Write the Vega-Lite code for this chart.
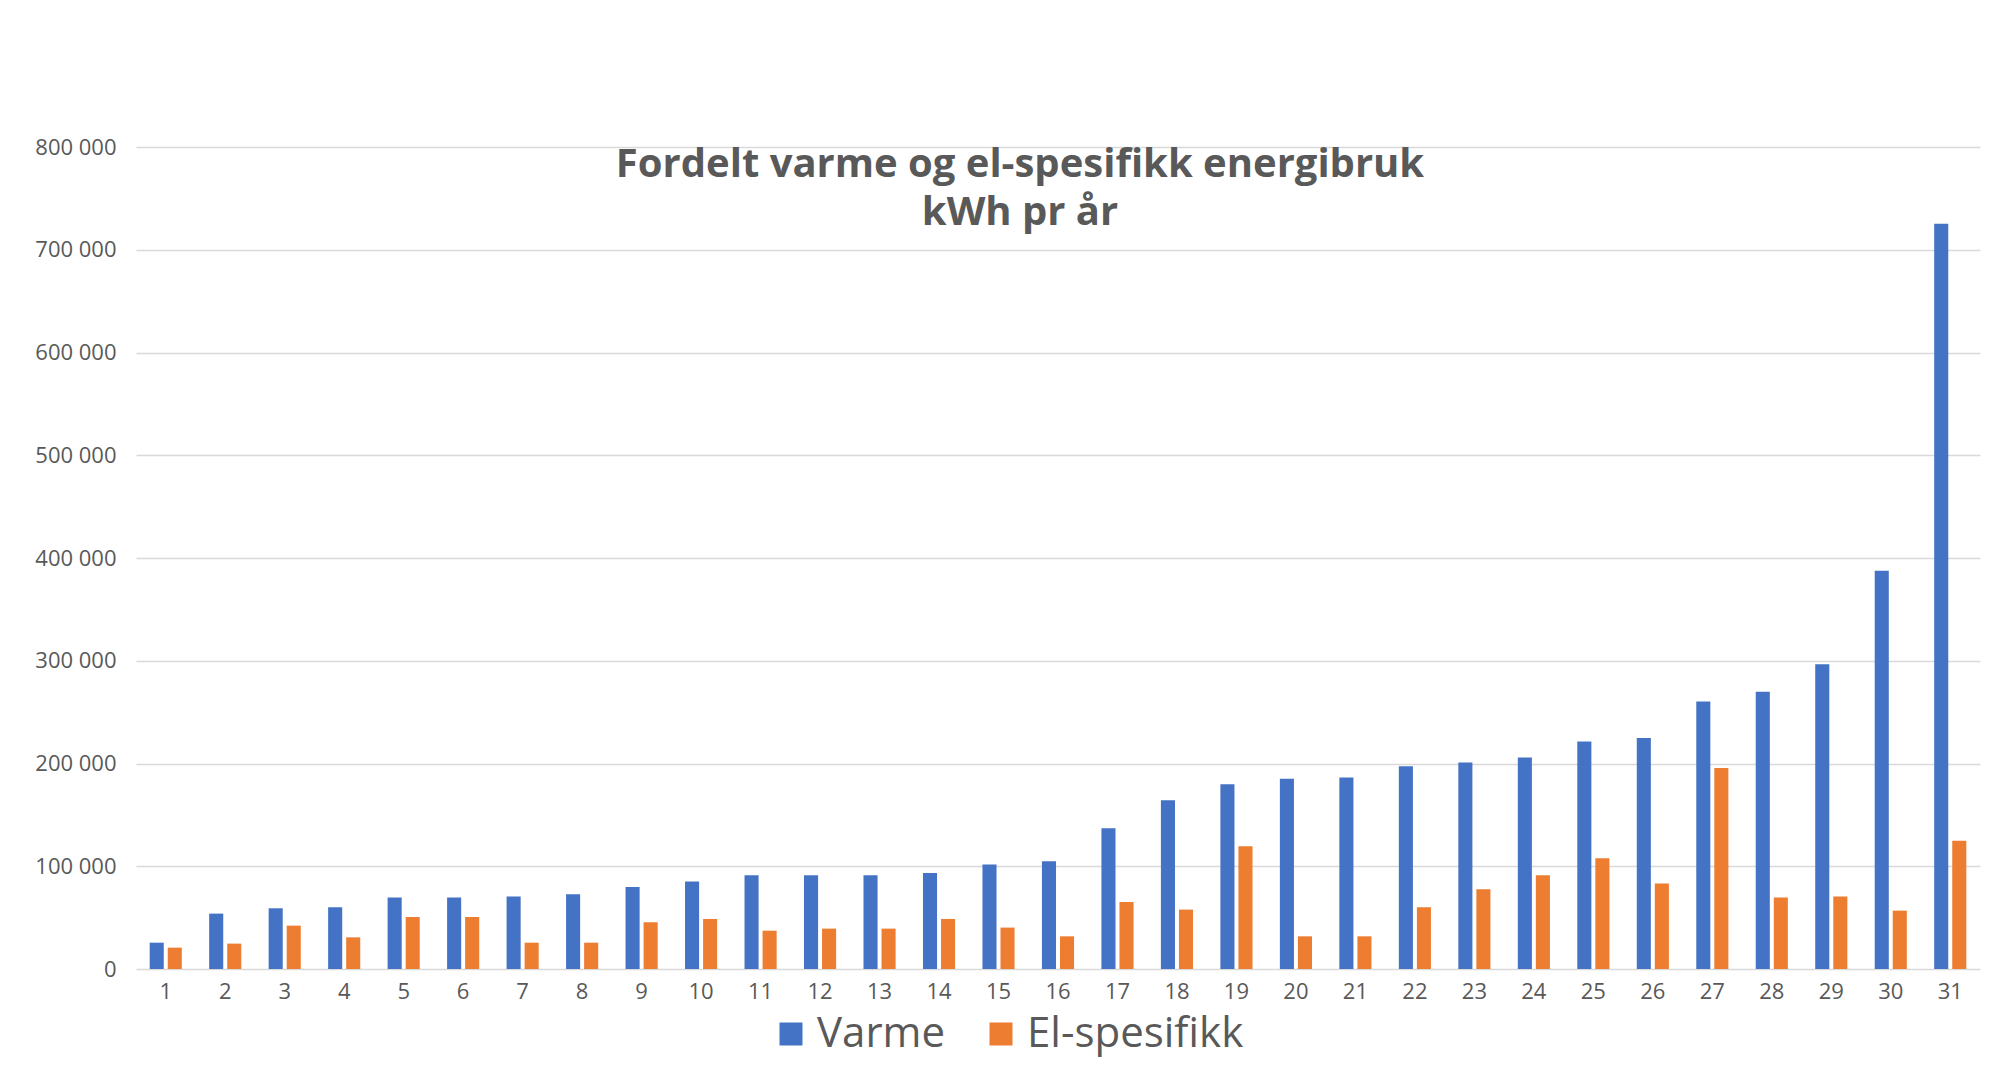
{
  "$schema": "https://vega.github.io/schema/vega-lite/v6.json",
  "width": 1844,
  "height": 822,
  "autosize": {"type": "none"},
  "padding": {"left": 136, "top": 147, "right": 17, "bottom": 96},
  "background": "white",
  "title": {
    "text": ["Fordelt varme og el-spesifikk energibruk", "kWh pr år"],
    "anchor": "middle",
    "frame": "group",
    "baseline": "bottom",
    "offset": -137,
    "dx": -38,
    "font": "Open Sans",
    "fontSize": 40,
    "fontWeight": "bold",
    "color": "#595959",
    "lineHeight": 48
  },
  "data": {
    "values": [
      {"nr": 1, "type": "Varme", "kWh": 25600}, {"nr": 1, "type": "El-spesifikk", "kWh": 20800},
      {"nr": 2, "type": "Varme", "kWh": 53900}, {"nr": 2, "type": "El-spesifikk", "kWh": 24700},
      {"nr": 3, "type": "Varme", "kWh": 59100}, {"nr": 3, "type": "El-spesifikk", "kWh": 42200},
      {"nr": 4, "type": "Varme", "kWh": 60100}, {"nr": 4, "type": "El-spesifikk", "kWh": 30800},
      {"nr": 5, "type": "Varme", "kWh": 69500}, {"nr": 5, "type": "El-spesifikk", "kWh": 50600},
      {"nr": 6, "type": "Varme", "kWh": 69500}, {"nr": 6, "type": "El-spesifikk", "kWh": 50600},
      {"nr": 7, "type": "Varme", "kWh": 70500}, {"nr": 7, "type": "El-spesifikk", "kWh": 25600},
      {"nr": 8, "type": "Varme", "kWh": 72700}, {"nr": 8, "type": "El-spesifikk", "kWh": 25600},
      {"nr": 9, "type": "Varme", "kWh": 79900}, {"nr": 9, "type": "El-spesifikk", "kWh": 45500},
      {"nr": 10, "type": "Varme", "kWh": 85100}, {"nr": 10, "type": "El-spesifikk", "kWh": 48700},
      {"nr": 11, "type": "Varme", "kWh": 91200}, {"nr": 11, "type": "El-spesifikk", "kWh": 37300},
      {"nr": 12, "type": "Varme", "kWh": 91200}, {"nr": 12, "type": "El-spesifikk", "kWh": 39300},
      {"nr": 13, "type": "Varme", "kWh": 91200}, {"nr": 13, "type": "El-spesifikk", "kWh": 39300},
      {"nr": 14, "type": "Varme", "kWh": 93500}, {"nr": 14, "type": "El-spesifikk", "kWh": 48700},
      {"nr": 15, "type": "Varme", "kWh": 101600}, {"nr": 15, "type": "El-spesifikk", "kWh": 40300},
      {"nr": 16, "type": "Varme", "kWh": 104900}, {"nr": 16, "type": "El-spesifikk", "kWh": 31800},
      {"nr": 17, "type": "Varme", "kWh": 137000}, {"nr": 17, "type": "El-spesifikk", "kWh": 65300},
      {"nr": 18, "type": "Varme", "kWh": 164300}, {"nr": 18, "type": "El-spesifikk", "kWh": 57800},
      {"nr": 19, "type": "Varme", "kWh": 179900}, {"nr": 19, "type": "El-spesifikk", "kWh": 119500},
      {"nr": 20, "type": "Varme", "kWh": 185100}, {"nr": 20, "type": "El-spesifikk", "kWh": 31800},
      {"nr": 21, "type": "Varme", "kWh": 186400}, {"nr": 21, "type": "El-spesifikk", "kWh": 31800},
      {"nr": 22, "type": "Varme", "kWh": 197400}, {"nr": 22, "type": "El-spesifikk", "kWh": 60100},
      {"nr": 23, "type": "Varme", "kWh": 201000}, {"nr": 23, "type": "El-spesifikk", "kWh": 77600},
      {"nr": 24, "type": "Varme", "kWh": 205800}, {"nr": 24, "type": "El-spesifikk", "kWh": 91200},
      {"nr": 25, "type": "Varme", "kWh": 221500}, {"nr": 25, "type": "El-spesifikk", "kWh": 107800},
      {"nr": 26, "type": "Varme", "kWh": 224700}, {"nr": 26, "type": "El-spesifikk", "kWh": 83100},
      {"nr": 27, "type": "Varme", "kWh": 260400}, {"nr": 27, "type": "El-spesifikk", "kWh": 195500},
      {"nr": 28, "type": "Varme", "kWh": 269800}, {"nr": 28, "type": "El-spesifikk", "kWh": 69500},
      {"nr": 29, "type": "Varme", "kWh": 296600}, {"nr": 29, "type": "El-spesifikk", "kWh": 70500},
      {"nr": 30, "type": "Varme", "kWh": 387600}, {"nr": 30, "type": "El-spesifikk", "kWh": 56800},
      {"nr": 31, "type": "Varme", "kWh": 725300}, {"nr": 31, "type": "El-spesifikk", "kWh": 124700}
    ]
  },
  "mark": {"type": "bar"},
  "encoding": {
    "x": {
      "field": "nr",
      "type": "ordinal",
      "scale": {"paddingInner": 0.46, "paddingOuter": 0.23},
      "axis": {
        "title": null,
        "labelAngle": 0,
        "ticks": false,
        "domain": false,
        "labelFont": "Open Sans",
        "labelFontSize": 22,
        "labelColor": "#595959",
        "labelPadding": 12
      }
    },
    "xOffset": {
      "field": "type",
      "sort": ["Varme", "El-spesifikk"],
      "scale": {"paddingInner": 0.22}
    },
    "y": {
      "field": "kWh",
      "type": "quantitative",
      "scale": {"domain": [0, 800000]},
      "axis": {
        "title": null,
        "values": [0, 100000, 200000, 300000, 400000, 500000, 600000, 700000, 800000],
        "labelExpr": "replace(format(datum.value, ','), regexp(',', 'g'), ' ')",
        "grid": true,
        "gridColor": "#D9D9D9",
        "gridWidth": 1.5,
        "domain": false,
        "ticks": false,
        "labelFont": "Open Sans",
        "labelFontSize": 22,
        "labelColor": "#595959",
        "labelPadding": 20
      }
    },
    "color": {
      "field": "type",
      "type": "nominal",
      "sort": ["Varme", "El-spesifikk"],
      "scale": {"domain": ["Varme", "El-spesifikk"], "range": ["#4472C4", "#ED7D31"]},
      "legend": {
        "title": null,
        "orient": "none",
        "legendX": 634,
        "legendY": 866,
        "direction": "horizontal",
        "symbolType": "square",
        "symbolSize": 529,
        "symbolStrokeWidth": 0,
        "labelFont": "Open Sans",
        "labelFontSize": 42,
        "labelColor": "#595959",
        "labelLimit": 400,
        "labelOffset": 5,
        "columnPadding": 34
      }
    }
  },
  "config": {"view": {"stroke": null}}
}
